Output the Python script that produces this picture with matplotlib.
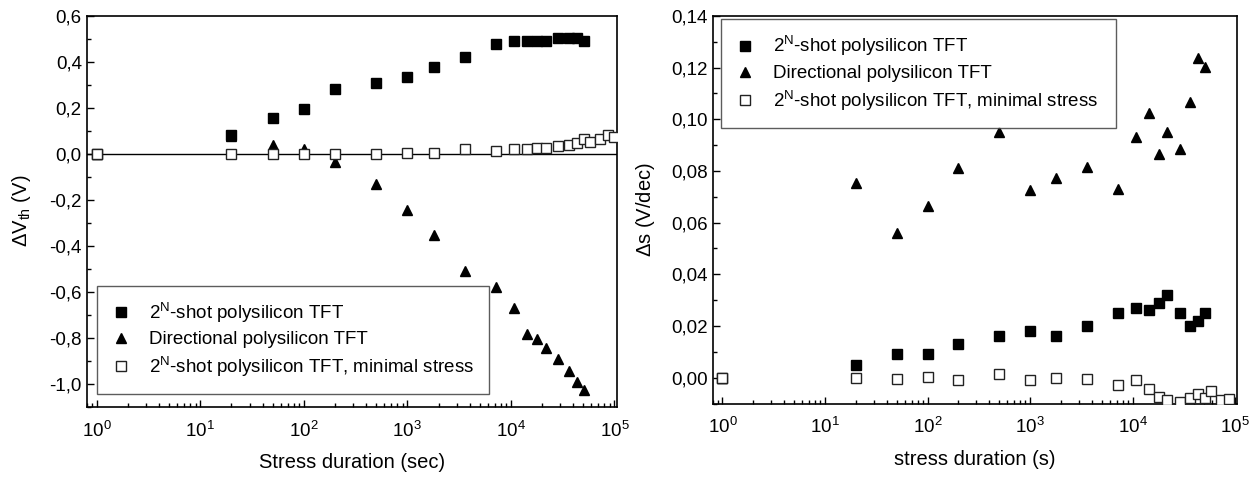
import matplotlib
matplotlib.use("Agg")
import matplotlib.pyplot as plt
from matplotlib.ticker import FuncFormatter, MultipleLocator, LogLocator

plt.rcParams['font.family'] = ['Liberation Sans', 'DejaVu Sans']
plt.rcParams['mathtext.fontset'] = 'custom'
plt.rcParams['mathtext.rm'] = 'Liberation Sans'
plt.rcParams['mathtext.it'] = 'Liberation Sans:italic'
plt.rcParams['mathtext.bf'] = 'Liberation Sans:bold'

# ---------------- data ----------------
labels = ['2$^{\\mathrm{N}}$-shot polysilicon TFT',
          'Directional polysilicon TFT',
          '2$^{\\mathrm{N}}$-shot polysilicon TFT, minimal stress']

t_main = [1, 20, 50, 100, 200, 500, 1000, 1800, 3600, 7200, 10800, 14400,
          18000, 21600, 28800, 36000, 43200, 50400]
t_min_left = [1, 20, 50, 100, 200, 500, 1000, 1800, 3600, 7200, 10800, 14400,
              18000, 21600, 28800, 36000, 43200, 50400, 57600, 72000, 86400, 100000]
t_min_right = [1, 20, 50, 100, 200, 500, 1000, 1800, 3600, 7200, 10800, 14400,
               18000, 21600, 28800, 36000, 43200, 50400, 57600, 72000, 86400]

dvth_2n = [0.0, 0.082, 0.155, 0.194, 0.280, 0.306, 0.335, 0.377, 0.419, 0.476,
           0.489, 0.489, 0.489, 0.489, 0.503, 0.503, 0.503, 0.489]
dvth_dir = [0.0, 0.078, 0.039, 0.020, -0.038, -0.132, -0.243, -0.353, -0.510,
            -0.578, -0.669, -0.782, -0.807, -0.843, -0.893, -0.947, -0.992, -1.028]
dvth_min = [0.0, 0.0, 0.0, 0.0, 0.0, 0.0, 0.005, 0.003, 0.020, 0.010, 0.020,
            0.022, 0.025, 0.026, 0.032, 0.038, 0.045, 0.064, 0.053, 0.066, 0.081, 0.071]

ds_2n = [0.0, 0.0049, 0.009, 0.009, 0.013, 0.0161, 0.018, 0.0161, 0.0201, 0.025,
         0.027, 0.026, 0.029, 0.032, 0.025, 0.020, 0.022, 0.025]
ds_dir = [0.0, 0.0752, 0.0558, 0.0664, 0.081, 0.0952, 0.0726, 0.0774, 0.0814,
          0.073, 0.0932, 0.1025, 0.0865, 0.0952, 0.0885, 0.1065, 0.1235, 0.1203]
ds_min = [0.0, 0.0, -0.0004, 0.0004, -0.0009, 0.0015, -0.0009, 0.0, -0.0006,
          -0.0027, -0.0008, -0.0043, -0.0075, -0.0088, -0.0093, -0.0078, -0.0063,
          -0.0077, -0.0050, -0.0088, -0.0084]

left_yticks = [-1.0, -0.8, -0.6, -0.4, -0.2, 0.0, 0.2, 0.4, 0.6]
right_yticks = [0.0, 0.02, 0.04, 0.06, 0.08, 0.10, 0.12, 0.14]

# ---------------- figure ----------------
fig = plt.figure(figsize=(12.6, 4.79), dpi=100)
axL = fig.add_axes([0.0688, 0.151, 0.4206, 0.816])
axR = fig.add_axes([0.5655, 0.1576, 0.4165, 0.8094])

TICK_FS = 13.5
LAB_FS = 14.5
LEG_FS = 13.5

def comma_fmt(nd):
    def f(v, pos):
        s = f"{v:.{nd}f}"
        if s.startswith('-') and float(s) == 0:
            s = s[1:]
        return s.replace('.', ',')
    return FuncFormatter(f)

def style(ax, yt, nd, minor):
    ax.set_xscale('log')
    ax.set_xlim(0.8, 1.05e5)
    ax.xaxis.set_major_locator(LogLocator(base=10, numticks=10))
    ax.xaxis.set_minor_locator(LogLocator(base=10, subs=range(2, 10), numticks=20))
    ax.set_yticks(yt)
    ax.yaxis.set_minor_locator(MultipleLocator(minor))
    ax.yaxis.set_major_formatter(comma_fmt(nd))
    ax.tick_params(which='both', direction='in', top=False, right=False,
                   labelsize=TICK_FS, width=1.0)
    ax.tick_params(which='major', length=5)
    ax.tick_params(which='minor', length=3)
    ax.tick_params(axis='x', which='major', pad=10)
    for sp in ax.spines.values():
        sp.set_linewidth(1.2)

mk_sq = dict(marker='s', ls='none', color='black', markersize=6.8)
mk_tr = dict(marker='^', ls='none', color='black', markersize=7.8)
mk_op = dict(marker='s', ls='none', markerfacecolor='white',
             markeredgecolor='#222222', markeredgewidth=1.0, markersize=6.5)

leg_kw = dict(mode='expand', fontsize=LEG_FS, frameon=True, fancybox=False,
              edgecolor='#333333', handlelength=1.0, handletextpad=1.0,
              borderpad=0.8, labelspacing=0.35, borderaxespad=0)

# left panel
axL.axhline(0, color='black', lw=1.0, zorder=1)
axL.plot(t_main, dvth_2n, label=labels[0], zorder=3, **mk_sq)
axL.plot(t_main, dvth_dir, label=labels[1], zorder=3, **mk_tr)
axL.plot(t_min_left, dvth_min, label=labels[2], zorder=4, **mk_op)
style(axL, left_yticks, 1, 0.1)
axL.set_ylim(-1.1, 0.6)
axL.set_xlabel('Stress duration (sec)', fontsize=LAB_FS, labelpad=9)
axL.set_ylabel('$\\Delta$V$_{\\mathrm{th}}$ (V)', fontsize=LAB_FS, labelpad=12)
legL = axL.legend(loc='lower left', bbox_to_anchor=(0.019, 0.0325, 0.74, 0.26),
                  **leg_kw)
legL.get_frame().set_linewidth(1.0)

# right panel
axR.plot(t_main, ds_2n, label=labels[0], zorder=3, **mk_sq)
axR.plot(t_main, ds_dir, label=labels[1], zorder=3, **mk_tr)
axR.plot(t_min_right, ds_min, label=labels[2], zorder=4, **mk_op)
style(axR, right_yticks, 2, 0.01)
axR.set_ylim(-0.01, 0.14)
axR.set_xlabel('stress duration (s)', fontsize=LAB_FS, labelpad=9)
axR.set_ylabel('$\\Delta$s (V/dec)', fontsize=LAB_FS, labelpad=10)
legR = axR.legend(loc='upper left', bbox_to_anchor=(0.0156, 0.7310, 0.753, 0.26),
                  **leg_kw)
legR.get_frame().set_linewidth(1.0)

fig.savefig('out.png', dpi=100)
